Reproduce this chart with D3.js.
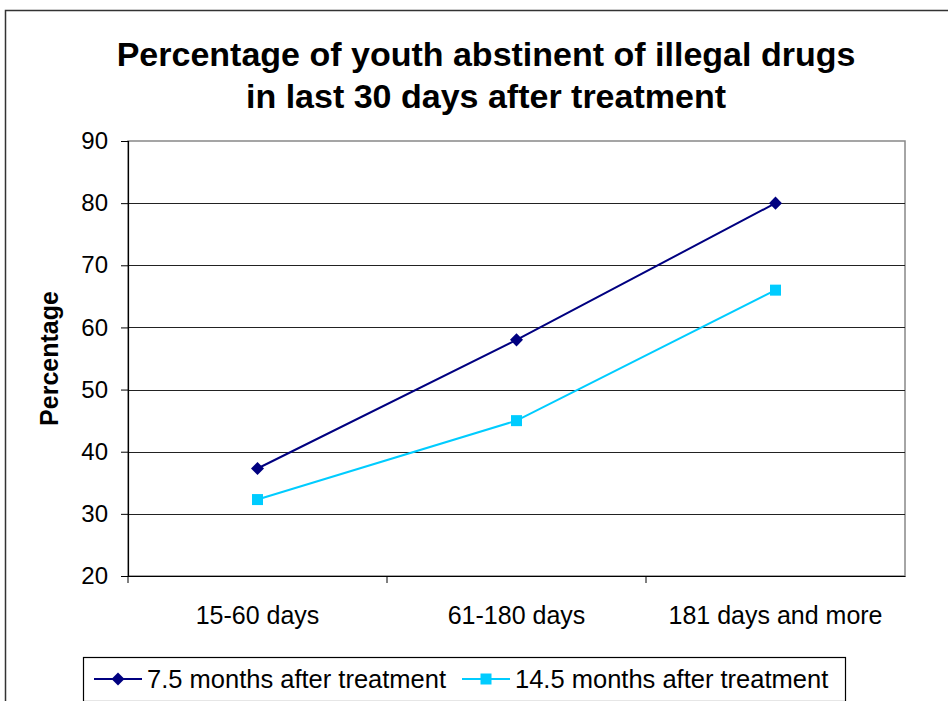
<!DOCTYPE html>
<html lang="en">
<head>
<meta charset="UTF-8">
<title>Percentage of youth abstinent</title>
<script src="https://d3js.org/d3.v7.min.js"></script>
<style>
    body { margin: 0; background: white; }
    svg { display: block; font-family: "Liberation Sans", Arial, sans-serif; }
</style>
</head>
<body>
<script>
    // Data
    const categories = ["15-60 days", "61-180 days", "181 days and more"];
    const seriesNames = ["7.5 months after treatment", "14.5 months after treatment"];
    const values75 = [37.3, 58, 80];
    const values145 = [32.3, 45, 66];
    const yTicks = [20, 30, 40, 50, 60, 70, 80, 90];

    const W = 948, H = 701;
    const plot = {left: 128, top: 141, right: 905, bottom: 576};

    const svg = d3.select("body").append("svg")
        .attr("width", W)
        .attr("height", H);

    // outer chart border
    svg.append("rect")
        .attr("x", 5.5).attr("y", 10.5)
        .attr("width", W + 10).attr("height", H + 10)
        .attr("fill", "white").attr("stroke", "#333").attr("stroke-width", 1.5);

    // Title
    const title = svg.append("text")
        .attr("text-anchor", "middle")
        .attr("font-weight", "bold")
        .attr("font-size", 34);
    title.append("tspan").attr("x", 486).attr("y", 66).text("Percentage of youth abstinent of illegal drugs");
    title.append("tspan").attr("x", 486).attr("y", 108).text("in last 30 days after treatment");

    // Scales
    const x = d3.scaleBand()
        .domain(categories)
        .range([plot.left, plot.right]);

    const y = d3.scaleLinear()
        .domain([20, 90])
        .range([plot.bottom, plot.top]);

    // plot area frame (gray)
    svg.append("rect")
        .attr("x", plot.left).attr("y", plot.top)
        .attr("width", plot.right - plot.left).attr("height", plot.bottom - plot.top)
        .attr("fill", "none").attr("stroke", "#888").attr("stroke-width", 1.5);

    // gridlines
    svg.append("g")
        .selectAll("line")
        .data(yTicks.slice(1, -1))
        .enter().append("line")
        .attr("x1", plot.left).attr("x2", plot.right)
        .attr("y1", d => Math.round(y(d)) + 0.5).attr("y2", d => Math.round(y(d)) + 0.5)
        .attr("stroke", "#222").attr("stroke-width", 1);

    // Y axis
    const yAxis = svg.append("g")
        .attr("transform", `translate(${plot.left},0)`)
        .call(d3.axisLeft(y).tickValues(yTicks).tickSize(7).tickPadding(13));
    yAxis.select(".domain").attr("stroke", "#000").attr("stroke-width", 1.2);
    yAxis.selectAll(".tick line").attr("stroke", "#000");
    yAxis.selectAll("text").attr("font-size", 24).attr("fill", "#000").attr("font-family", "Liberation Sans, Arial, sans-serif");

    // X axis
    const xAxis = svg.append("g")
        .attr("transform", `translate(0,${plot.bottom})`)
        .call(d3.axisBottom(x).tickSize(0).tickPadding(30));
    xAxis.select(".domain").attr("stroke", "#000").attr("stroke-width", 1.2);
    xAxis.selectAll("text").attr("font-size", 25).attr("fill", "#000").attr("font-family", "Liberation Sans, Arial, sans-serif");

    // category separator ticks
    xAxis.selectAll(".sep")
        .data(categories)
        .enter().append("line")
        .attr("x1", d => x(d)).attr("x2", d => x(d))
        .attr("y1", 0).attr("y2", 7)
        .attr("stroke", "#000");

    // Y axis title
    svg.append("text")
        .attr("transform", `translate(58,${(plot.top + plot.bottom) / 2}) rotate(-90)`)
        .attr("text-anchor", "middle")
        .attr("font-weight", "bold")
        .attr("font-size", 25)
        .text("Percentage");

    // Lines
    const colors = ["#000080", "#00CCFF"];
    const allSeries = [values75, values145];
    const line = d3.line()
        .x((d, i) => x(categories[i]) + x.bandwidth() / 2)
        .y(d => y(d));

    allSeries.forEach((vals, s) => {
        svg.append("path")
            .datum(vals)
            .attr("d", line)
            .attr("fill", "none")
            .attr("stroke", colors[s])
            .attr("stroke-width", 2);
    });

    // markers
    svg.selectAll(".m75")
        .data(values75)
        .enter().append("path")
        .attr("transform", (d, i) => `translate(${x(categories[i]) + x.bandwidth() / 2},${y(d)}) rotate(45)`)
        .attr("d", d3.symbol().type(d3.symbolSquare).size(85))
        .attr("fill", colors[0]);

    svg.selectAll(".m145")
        .data(values145)
        .enter().append("rect")
        .attr("x", (d, i) => x(categories[i]) + x.bandwidth() / 2 - 5.5)
        .attr("y", d => y(d) - 5.5)
        .attr("width", 11).attr("height", 11)
        .attr("fill", colors[1]);

    // Legend
    const legend = svg.append("g");
    legend.append("rect")
        .attr("x", 83.5).attr("y", 657.5)
        .attr("width", 762).attr("height", 44)
        .attr("fill", "white").attr("stroke", "#000").attr("stroke-width", 1.2);

    const legendItems = [
        {x: 94, name: seriesNames[0], color: colors[0], shape: "diamond"},
        {x: 462, name: seriesNames[1], color: colors[1], shape: "square"}
    ];
    const ly = 679;
    legendItems.forEach(it => {
        legend.append("line")
            .attr("x1", it.x).attr("x2", it.x + 48)
            .attr("y1", ly).attr("y2", ly)
            .attr("stroke", it.color).attr("stroke-width", 2);
        if (it.shape === "diamond") {
            legend.append("path")
                .attr("transform", `translate(${it.x + 24},${ly}) rotate(45)`)
                .attr("d", d3.symbol().type(d3.symbolSquare).size(85))
                .attr("fill", it.color);
        } else {
            legend.append("rect")
                .attr("x", it.x + 18.5).attr("y", ly - 5.5)
                .attr("width", 11).attr("height", 11)
                .attr("fill", it.color);
        }
        legend.append("text")
            .attr("x", it.x + 53).attr("y", ly + 9)
            .attr("font-size", 25.5)
            .text(it.name);
    });
</script>
</body>
</html>
